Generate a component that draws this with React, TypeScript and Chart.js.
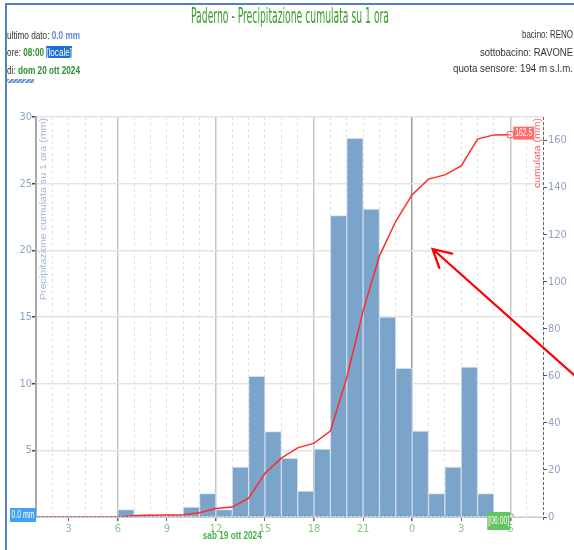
import React, { useEffect, useLayoutEffect, useRef } from 'react';
import { Chart, registerables } from 'chart.js';

Chart.register(...registerables);

// ---------- texts ----------
const TITLE = 'Paderno - Precipitazione cumulata su 1 ora';
const Y_TITLE = 'Precipitazione cumulata su 1 ora (mm)';
const Y1_TITLE = 'cumulata (mm)';
const DAY_LABEL = 'sab 19 ott 2024';
const LAST_TIME_LABEL = '[06:00]';
const LAST_VALUE = '0.0 mm';
const LAST_HOUR = '08:00';
const LAST_DATE = 'dom 20 ott 2024';
const BASIN = 'RENO';
const SUBBASIN = 'RAVONE';
const ALTITUDE = '194 m s.l.m.';

// ---------- data (hours counted from 00:00 of sab 19 ott 2024) ----------
const X_MIN = 1;
const X_MAX = 32;
const X_LABEL_STEP = 3;
const DAY_LABEL_HOUR = 13;
const LAST_HOUR_X = 30;

// hourly rain, bar covers [hour, hour+1]
const barHours = [6, 7, 8, 9, 10, 11, 12, 13, 14, 15, 16, 17, 18, 19, 20, 21, 22, 23, 24, 25, 26, 27, 28, 29];
const barValues = [0.55, 0.2, 0.1, 0.15, 0.75, 1.75, 0.55, 3.75, 10.55, 6.4, 4.4, 1.95, 5.1, 22.6, 28.4, 23.1, 15.0, 11.15, 6.45, 1.75, 3.75, 11.25, 1.75, 0];

// cumulated rain at each hour
const cumHours = [1, 2, 3, 4, 5, 6, 7, 8, 9, 10, 11, 12, 13, 14, 15, 16, 17, 18, 19, 20, 21, 22, 23, 24, 25, 26, 27, 28, 29, 30];
const cumValues = [0, 0, 0, 0, 0, 0, 0.55, 0.75, 0.85, 1.0, 1.8, 3.6, 4.2, 8.0, 18.6, 25.0, 29.4, 31.4, 36.5, 59.2, 87.6, 111.0, 125.7, 137.0, 143.6, 145.4, 149.2, 160.6, 162.4, 162.5];

const Y_MAX = 30;
const Y_STEP = 5;
const Y1_MAX = 170;
const Y1_STEP = 20;

// annotation arrow (in data units: x hours, y left axis)
const arrowHead = { x: 25.25, y: 20.1 };
const arrowTail = { x: 35.5, y: 8.9 };

const NARROW = "'Liberation Sans Narrow','DejaVu Sans Condensed','Liberation Sans',sans-serif";
const SANS = "'Liberation Sans',Arial,sans-serif";

function fitText(ctx: CanvasRenderingContext2D, text: string, cx: number, cy: number, targetW: number, font: string, color: string) {
  ctx.save();
  ctx.font = font;
  const m = ctx.measureText(text).width || 1;
  ctx.translate(cx, cy);
  ctx.scale(targetW / m, 1);
  ctx.fillStyle = color;
  ctx.textAlign = 'center';
  ctx.textBaseline = 'middle';
  ctx.fillText(text, 0, 0);
  ctx.restore();
}

function labelBox(ctx: CanvasRenderingContext2D, text: string, left: number, top: number, w: number, h: number, bg: string, textW: number) {
  ctx.save();
  ctx.fillStyle = bg;
  ctx.fillRect(left, top, w, h);
  ctx.restore();
  fitText(ctx, text, left + w / 2, top + h / 2 + 0.5, textW, `10px ${SANS}`, '#ffffff');
}

function verticalTitle(ctx: CanvasRenderingContext2D, text: string, cx: number, top: number, len: number, color: string) {
  ctx.save();
  ctx.font = `11px ${SANS}`;
  const m = ctx.measureText(text).width || 1;
  ctx.translate(cx, top);
  ctx.rotate(-Math.PI / 2);
  ctx.scale(len / m, 0.85);
  ctx.fillStyle = color;
  ctx.textAlign = 'right';
  ctx.textBaseline = 'middle';
  ctx.fillText(text, 0, 0);
  ctx.restore();
}

const decor = {
  id: 'decor',
  afterDatasetsDraw(chart: any) {
    const { ctx, scales } = chart;
    const x = scales.x, y = scales.y;
    ctx.save();
    ctx.strokeStyle = '#8fb4d8';
    ctx.lineWidth = 1;
    ctx.setLineDash([2, 2]);
    ctx.beginPath();
    ctx.moveTo(x.getPixelForValue(X_MIN), y.getPixelForValue(0) - 0.5);
    ctx.lineTo(x.getPixelForValue(LAST_HOUR_X), y.getPixelForValue(0) - 0.5);
    ctx.stroke();
    ctx.restore();
  },
  afterDraw(chart: any) {
    const { ctx, chartArea: ca, scales } = chart;
    const x = scales.x, y = scales.y, y1 = scales.y1;
    ctx.save();
    // right axis dashed line
    ctx.strokeStyle = '#666';
    ctx.lineWidth = 1;
    ctx.setLineDash([3, 2]);
    ctx.beginPath();
    ctx.moveTo(ca.right + 0.5, ca.top);
    ctx.lineTo(ca.right + 0.5, ca.bottom + 4);
    ctx.stroke();
    ctx.setLineDash([]);
    ctx.restore();

    // axis titles inside plot
    verticalTitle(ctx, Y_TITLE, ca.left + 7, ca.top + 1, 182, '#a3b6d4');
    verticalTitle(ctx, Y1_TITLE, ca.right - 6, ca.top + 1, 70, '#ff5c5c');

    // day label
    fitText(ctx, DAY_LABEL, x.getPixelForValue(DAY_LABEL_HOUR), 536, 59, `bold 11px ${SANS}`, '#45b04a');

    // last value labels
    const lastCum = cumValues[cumValues.length - 1];
    const lastBar = barValues[barValues.length - 1];
    const px = x.getPixelForValue(LAST_HOUR_X);
    const pyCum = y1.getPixelForValue(lastCum);
    labelBox(ctx, lastCum.toFixed(1), px + 3, pyCum - 8, 21, 13, '#ff6b6b', 17);
    labelBox(ctx, LAST_TIME_LABEL, px - 23, ca.bottom - 5, 23, 18, '#62c462', 21);
    const py0 = y.getPixelForValue(lastBar);
    labelBox(ctx, `${lastBar.toFixed(1)} mm`, ca.left - 26, py0 - 9, 26, 14, '#3fa2f4', 23);

    // red arrow annotation
    const hx = x.getPixelForValue(arrowHead.x), hy = y.getPixelForValue(arrowHead.y);
    const tx = x.getPixelForValue(arrowTail.x), ty = y.getPixelForValue(arrowTail.y);
    const ang = Math.atan2(ty - hy, tx - hx);
    ctx.save();
    ctx.strokeStyle = '#ff0000';
    ctx.lineWidth = 2.3;
    ctx.lineCap = 'round';
    ctx.beginPath();
    ctx.moveTo(tx, ty);
    ctx.lineTo(hx, hy);
    const wl = 20, wa = 0.5;
    ctx.moveTo(hx + wl * Math.cos(ang - wa), hy + wl * Math.sin(ang - wa));
    ctx.lineTo(hx, hy);
    ctx.lineTo(hx + wl * Math.cos(ang + wa), hy + wl * Math.sin(ang + wa));
    ctx.stroke();
    ctx.restore();
  },
};

function FitText(props: { left: number; top: number; width: number; size: number; color?: string; family?: string; children: any }) {
  const ref = useRef<HTMLDivElement>(null);
  useLayoutEffect(() => {
    const el = ref.current;
    if (!el) return;
    el.style.transform = 'none';
    const w = el.getBoundingClientRect().width || 1;
    el.style.transform = `scaleX(${props.width / w})`;
  });
  return (
    <div
      ref={ref}
      style={{
        position: 'absolute',
        left: props.left,
        top: props.top,
        fontSize: props.size,
        lineHeight: `${props.size}px`,
        whiteSpace: 'nowrap',
        transformOrigin: '0 0',
        color: props.color || '#333',
        fontFamily: props.family || SANS,
      }}
    >
      {props.children}
    </div>
  );
}

export default function App() {
  const canvasRef = useRef<HTMLCanvasElement>(null);

  useEffect(() => {
    const canvas = canvasRef.current;
    if (!canvas) return;
    const chart = new Chart(canvas, {
      type: 'bar',
      data: {
        datasets: [
          {
            type: 'line',
            label: 'cumulata',
            data: cumHours.map((h, i) => ({ x: h, y: cumValues[i] })),
            yAxisID: 'y1',
            borderColor: '#ff2a2a',
            borderWidth: 1.5,
            tension: 0,
            pointRadius: cumHours.map((_, i) => (i === cumHours.length - 1 ? 3.5 : 0)),
            pointBackgroundColor: 'rgba(255,255,255,0.3)',
            pointBorderColor: '#ff4a4a',
            pointBorderWidth: 1,
            order: 0,
          } as any,
          {
            type: 'line',
            label: 'ultimo',
            data: [{ x: LAST_HOUR_X, y: barValues[barValues.length - 1] }],
            yAxisID: 'y',
            showLine: false,
            pointRadius: 3.5,
            pointBackgroundColor: 'rgba(255,255,255,0.3)',
            pointBorderColor: '#6f9ccc',
            pointBorderWidth: 1,
            order: 0,
          } as any,
          {
            type: 'bar',
            label: 'pioggia',
            data: barHours.map((h, i) => ({ x: h + 0.5, y: barValues[i] })),
            yAxisID: 'y',
            backgroundColor: 'rgba(112,156,199,0.92)',
            borderColor: 'rgba(205,220,236,0.9)',
            borderWidth: 1,
            barPercentage: 1,
            categoryPercentage: 1,
            order: 1,
          } as any,
        ],
      },
      options: {
        responsive: false,
        animation: false,
        devicePixelRatio: 1,
        layout: { padding: { top: 117, left: 0, right: 0, bottom: 0 } },
        plugins: { legend: { display: false }, title: { display: false }, tooltip: { enabled: false } },
        scales: {
          x: {
            type: 'linear',
            min: X_MIN,
            max: X_MAX,
            offset: false,
            afterFit: (s: any) => { s.height = 33; },
            grid: {
              offset: false,
              color: (c: any) => {
                const v = c.tick ? c.tick.value : null;
                if (v == null) return '#e2e2e2';
                if (v % 24 === 0) return '#9a9a9a';
                if (v % 6 === 0) return '#c6c6c6';
                return '#e0e0e0';
              },
              lineWidth: (c: any) => (c.tick && c.tick.value % 6 === 0 ? 1.5 : 1),
              tickColor: (c: any) => (c.tick && c.tick.value % X_LABEL_STEP === 0 ? '#666' : 'rgba(0,0,0,0)'),
              tickLength: 4,
            },
            border: {
              color: '#cccccc',
              width: 1,
              dash: (c: any) => (c.tick && c.tick.value % 6 !== 0 ? [3, 3] : []),
            },
            ticks: {
              stepSize: 1,
              autoSkip: false,
              maxRotation: 0,
              padding: 2,
              color: '#86c886',
              font: { family: NARROW, size: 11 },
              callback: (v: any) => (v % X_LABEL_STEP === 0 ? String(v % 24) : ''),
            },
          },
          y: {
            position: 'left',
            min: 0,
            max: Y_MAX,
            afterFit: (s: any) => { s.width = 36; },
            grid: { color: '#e4e4e4', lineWidth: 1.5, tickColor: '#444', tickLength: 4 },
            border: { color: '#a8a8a8', width: 2 },
            ticks: { stepSize: Y_STEP, padding: 0, color: '#8ea3c3', font: { family: NARROW, size: 11 } },
          },
          y1: {
            position: 'right',
            min: 0,
            max: Y1_MAX,
            afterFit: (s: any) => { s.width = 31; },
            grid: { drawOnChartArea: false, tickColor: '#555', tickLength: 4 },
            border: { display: false },
            ticks: { stepSize: Y1_STEP, includeBounds: false, padding: 1, color: '#8ea3c3', font: { family: NARROW, size: 11 } },
          },
        },
      } as any,
      plugins: [decor],
    });
    return () => chart.destroy();
  }, []);

  const green = '#2e8f2e';
  return (
    <div style={{ position: 'fixed', left: 0, top: 0, width: 574, height: 550, background: '#fff', overflow: 'hidden' }}>
      <canvas ref={canvasRef} width={574} height={550} style={{ position: 'absolute', left: 0, top: 0, width: 574, height: 550 }} />
      <div style={{ position: 'absolute', left: 5, top: 3, width: 2, height: 547, background: '#4f81c4' }} />
      <div style={{ position: 'absolute', left: 5, top: 3, width: 569, height: 2, background: '#4f81c4' }} />
      <FitText left={191} top={5.5} width={198} size={21} color="#3c9e2c" family={NARROW}>{TITLE}</FitText>

      <FitText left={7} top={29.8} width={73} size={11}>
        ultimo dato: <b style={{ color: '#5b8dd6' }}>{LAST_VALUE}</b>
      </FitText>
      <FitText left={7} top={47} width={65} size={11}>
        ore: <b style={{ color: green }}>{LAST_HOUR}</b>{' '}
        <span style={{ background: '#1f6fd6', color: '#fff' }}>[locale]</span>
      </FitText>
      <FitText left={7} top={64.5} width={73} size={11}>
        di: <b style={{ color: green }}>{LAST_DATE}</b>
      </FitText>
      <div
        style={{
          position: 'absolute', left: 7, top: 79, width: 27, height: 4,
          background: 'repeating-linear-gradient(135deg, #6d98cf 0px, #6d98cf 2px, #dfe9f5 2px, #dfe9f5 3px)',
        }}
      />

      <FitText left={522} top={28.7} width={51} size={11}>bacino: {BASIN}</FitText>
      <FitText left={480} top={46.7} width={93} size={11}>sottobacino: {SUBBASIN}</FitText>
      <FitText left={453} top={63.2} width={120} size={11}>quota sensore: {ALTITUDE}</FitText>
    </div>
  );
}
